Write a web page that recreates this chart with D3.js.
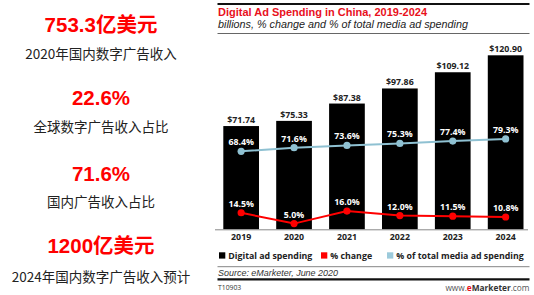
<!DOCTYPE html>
<html><head><meta charset="utf-8">
<script src="https://cdn.jsdelivr.net/npm/d3@7"></script>
<style>
html,body{margin:0;padding:0;background:#fff;}
svg{display:block;}
</style></head>
<body>
<svg id="c" width="534" height="295"></svg>
<script>
// ---- data ----
const years = ["2019","2020","2021","2022","2023","2024"];
const spending = [71.74,75.33,87.38,97.86,109.12,120.90];
const pctChange = [14.5,5.0,16.0,12.0,11.5,10.8];
const pctTotal = [68.4,71.6,73.6,75.3,77.4,79.3];
const legendLabels = ["Digital ad spending","% change","% of total media ad spending"];
const kpiValues = ["753.3亿美元","22.6%","71.6%","1200亿美元"];
const kpiLabels = ["2020年国内数字广告收入","全球数字广告收入占比","国内广告收入占比","2024年国内数字广告收入预计"];
const title = "Digital Ad Spending in China, 2019-2024";
const subtitle = "billions, % change and % of total media ad spending";
const source = "Source: eMarketer, June 2020";
const chartId = "T10903";

const svg = d3.select("#c");
const OS = "'Open Sans', 'Liberation Sans', sans-serif";
const LAT = "'Liberation Sans', Arial, sans-serif";
const CJK = "'Liberation Sans','Noto Sans CJK SC',sans-serif";

// ---- left KPI panel ----
const kpiValY = [32, 105, 180.5, 253];
const kpiLabY = [58.5, 132, 206.5, 281.5];
kpiValues.forEach((v,i)=>{
  svg.append("text").attr("x",101).attr("y",kpiValY[i]).attr("text-anchor","middle")
    .attr("font-family",CJK).attr("font-weight","bold").attr("font-size",20.5)
    .attr("fill","#ff0000").text(v);
  svg.append("text").attr("x",101).attr("y",kpiLabY[i]).attr("text-anchor","middle")
    .attr("font-family","'Noto Sans CJK SC',sans-serif").attr("font-size",13.5)
    .attr("fill","#222").text(kpiLabels[i]);
});

// ---- chart header ----
const L = 217.5, R = 529.5;
svg.append("line").attr("x1",L).attr("x2",R).attr("y1",4).attr("y2",4)
  .attr("stroke","#111").attr("stroke-width",1.8);
svg.append("text").attr("x",218).attr("y",15.6).attr("font-family",LAT)
  .attr("font-weight","bold").attr("font-size",10.2).attr("fill","#e8101c")
  .attr("textLength",209).attr("lengthAdjust","spacingAndGlyphs").text(title);
svg.append("text").attr("x",218).attr("y",27.6).attr("font-family",LAT)
  .attr("font-style","italic").attr("font-size",10.4).attr("fill","#222")
  .attr("textLength",250).attr("lengthAdjust","spacingAndGlyphs").text(subtitle);
svg.append("line").attr("x1",L).attr("x2",R).attr("y1",33.5).attr("y2",33.5)
  .attr("stroke","#555").attr("stroke-width",0.9);

// ---- scales ----
const base = 229.3;
const x = d3.scaleBand().domain(years).range([215, 531.8]).paddingInner(0.325).paddingOuter(0.157);
const yBar = d3.scaleLinear().domain([0,120.9]).range([base,55.3]);
const yPct = d3.scaleLinear().domain([0,100]).range([base,base-114]);
const cx = d => x(d) + x.bandwidth()/2;
const fmt$ = d3.format("$.2f");
const fmtP = d => d3.format(".1f")(d) + "%";
const FS = 8.8;

// bars
svg.append("g").selectAll("rect").data(years).join("rect")
  .attr("x",d=>x(d)).attr("width",x.bandwidth())
  .attr("y",(d,i)=>yBar(spending[i])).attr("height",(d,i)=>base-yBar(spending[i]))
  .attr("fill","#000");
svg.append("g").selectAll("text").data(years).join("text")
  .attr("x",cx).attr("y",(d,i)=>yBar(spending[i])-3)
  .attr("text-anchor","middle").attr("font-family",OS).attr("font-weight","bold")
  .attr("font-size",FS).attr("fill","#222").text((d,i)=>fmt$(spending[i]));

// axis
svg.append("line").attr("x1",215).attr("x2",528).attr("y1",base+0.5).attr("y2",base+0.5)
  .attr("stroke","#888").attr("stroke-width",1);
const xAxis = d3.axisBottom(x).tickSize(0).tickPadding(0);
const ax = svg.append("g").attr("transform",`translate(0,${base})`).call(xAxis);
ax.select(".domain").remove();
ax.selectAll("text").attr("y",10.5).attr("dy",0).attr("font-family",OS).attr("font-weight","bold")
  .attr("font-size",FS).attr("fill","#222");

// lines
function drawLine(vals, color, mcolor){
  const line = d3.line().x((d,i)=>cx(years[i])).y(d=>yPct(d));
  svg.append("path").datum(vals).attr("d",line).attr("fill","none")
    .attr("stroke",color).attr("stroke-width",2);
  svg.append("g").selectAll("circle").data(vals).join("circle")
    .attr("cx",(d,i)=>cx(years[i])).attr("cy",d=>yPct(d)).attr("r",3.6).attr("fill",mcolor);
  svg.append("g").selectAll("text").data(vals).join("text")
    .attr("x",(d,i)=>cx(years[i])).attr("y",d=>yPct(d)-6)
    .attr("text-anchor","middle").attr("font-family",OS).attr("font-weight","bold")
    .attr("font-size",FS).attr("fill","#fff").text(d=>fmtP(d));
}
drawLine(pctTotal, "#8fc1d2", "#8fc1d2");
drawLine(pctChange, "#ff0000", "#ff0000");

// legend
const legColors = ["#000","#ff0000","#9ccadb"];
const legX = [219, 321, 387];
legendLabels.forEach((t,i)=>{
  svg.append("rect").attr("x",legX[i]).attr("y",252.3).attr("width",6.3).attr("height",6.3).attr("fill",legColors[i]);
  svg.append("text").attr("x",legX[i]+9.3).attr("y",258.5).attr("font-family",OS)
    .attr("font-weight","bold").attr("font-size",FS).attr("fill","#222").text(t);
});

// footer
svg.append("line").attr("x1",L).attr("x2",R).attr("y1",266.7).attr("y2",266.7)
  .attr("stroke","#666").attr("stroke-width",0.8);
svg.append("text").attr("x",218).attr("y",275.6).attr("font-family",LAT)
  .attr("font-style","italic").attr("font-size",9).attr("fill","#333")
  .attr("textLength",120).attr("lengthAdjust","spacingAndGlyphs").text(source);
svg.append("line").attr("x1",L).attr("x2",R).attr("y1",279.3).attr("y2",279.3)
  .attr("stroke","#111").attr("stroke-width",2.2);
svg.append("text").attr("x",218).attr("y",290.2).attr("font-family",OS)
  .attr("font-size",6.8).attr("fill","#333").text(chartId);
const w = svg.append("text").attr("x",529.5).attr("y",290.6).attr("text-anchor","end")
  .attr("font-family",OS).attr("font-size",8.3).attr("fill","#555");
w.append("tspan").text("www.");
w.append("tspan").attr("fill","#e8101c").attr("font-weight","bold").text("e");
w.append("tspan").attr("font-weight","bold").attr("fill","#333").text("Marketer");
w.append("tspan").text(".com");
</script>
</body></html>
